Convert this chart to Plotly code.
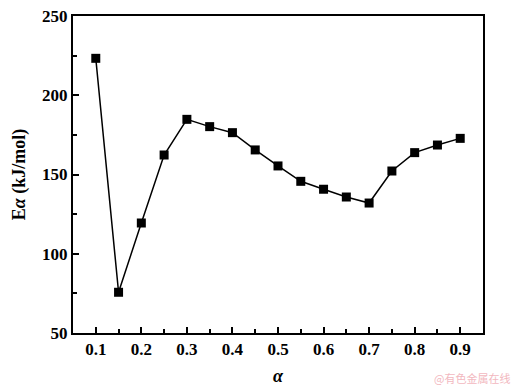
import plotly.graph_objects as go

alpha = [0.1, 0.15, 0.2, 0.25, 0.3, 0.35, 0.4, 0.45, 0.5, 0.55, 0.6, 0.65, 0.7, 0.75, 0.8, 0.85, 0.9]
ea = [223.3, 75.7, 119.4, 162.3, 184.8, 180.2, 176.4, 165.5, 155.4, 145.7, 140.7, 135.8, 132.0, 152.2, 163.8, 168.6, 172.8]
x_ticks = [0.1, 0.2, 0.3, 0.4, 0.5, 0.6, 0.7, 0.8, 0.9]
y_ticks = [50, 100, 150, 200, 250]

font_family = "Liberation Serif"

fig = go.Figure()
fig.add_trace(go.Scatter(
    x=alpha, y=ea, mode="lines+markers",
    line=dict(color="black", width=1.5),
    marker=dict(symbol="square", size=9, color="black"),
    showlegend=False, cliponaxis=False,
))

axis_common = dict(
    showline=True, linecolor="black", linewidth=2, mirror=True,
    ticks="inside", ticklen=6, tickwidth=1.5, tickcolor="black",
    showgrid=False, zeroline=False, automargin=False,
    tickfont=dict(family=font_family, size=17, color="black", weight="bold"),
)

fig.update_layout(
    width=516, height=392,
    margin=dict(l=73, r=33, t=16, b=59),
    paper_bgcolor="white", plot_bgcolor="white",
    xaxis=dict(
        range=[0.05, 0.95], tickvals=x_ticks,
        ticktext=[f"{v:.1f}" for v in x_ticks],
        minor=dict(ticks="inside", ticklen=4, tickwidth=1.5, tickcolor="black", dtick=0.05, tick0=0.05),
        title=dict(text="<b><i>α</i></b>", font=dict(family=font_family, size=18, color="black"), standoff=11),
        **axis_common,
    ),
    yaxis=dict(
        range=[50, 250], tickvals=y_ticks,
        minor=dict(ticks="inside", ticklen=4, tickwidth=1.5, tickcolor="black", dtick=25),
        title=dict(text="<b>E<i>α</i> (kJ/mol)</b>", font=dict(family=font_family, size=18, color="black"), standoff=12),
        **axis_common,
    ),
)

fig.add_annotation(
    text="@有色金属在线", xref="paper", yref="paper", x=1.07, y=-0.172,
    xanchor="right", yanchor="bottom", showarrow=False,
    font=dict(family="Noto Sans CJK SC", size=11, color="#f2b8c0"),
)

fig.write_html("out.html")
